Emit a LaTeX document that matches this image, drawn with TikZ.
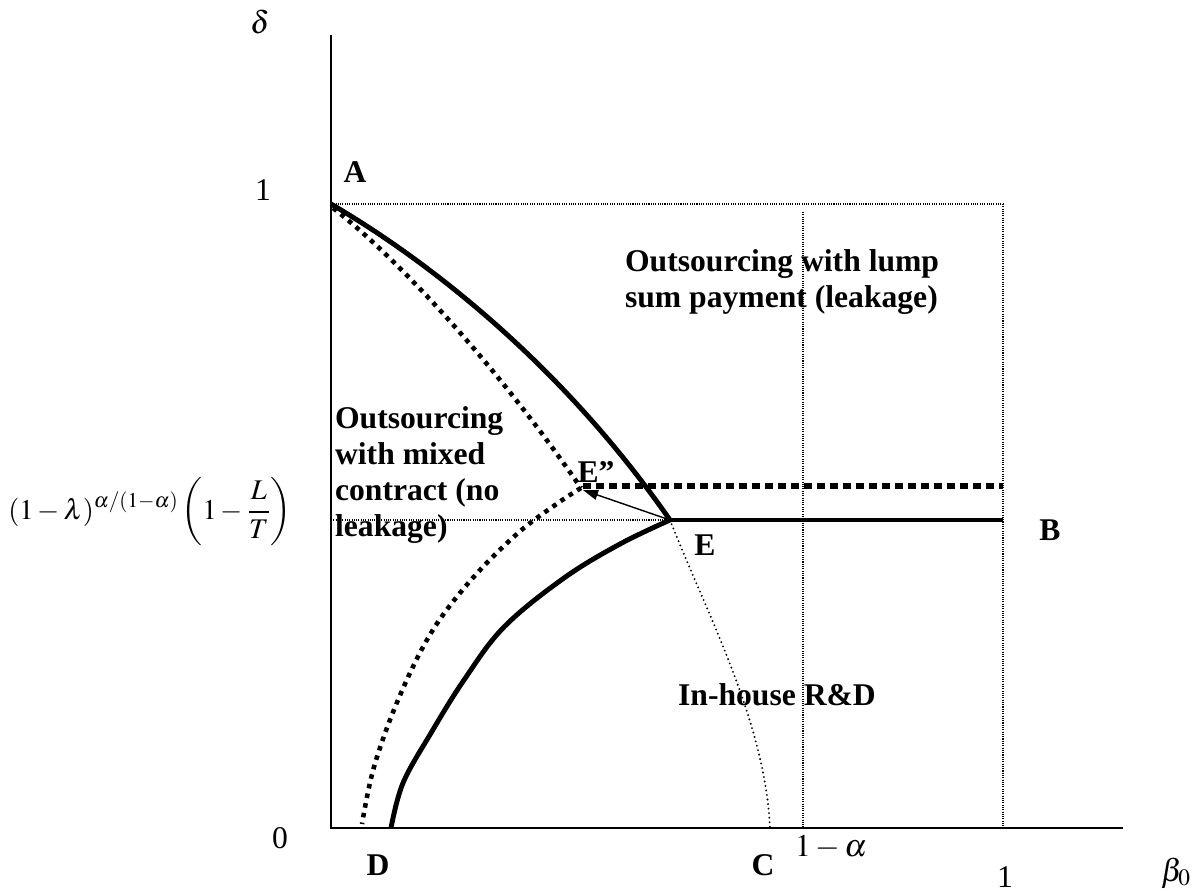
\documentclass[tikz,border=0pt]{standalone}
\usepackage{mathptmx}
\usepackage[no-math]{fontspec}
\setmainfont{Liberation Serif}
\usetikzlibrary{arrows.meta}

\begin{document}
\begin{tikzpicture}[x=0.02cm,y=-0.02cm,font=\fontsize{18}{20.5}\selectfont,inner sep=1pt,
  axis/.style={line width=1.1pt},
  bound/.style={line width=2.8pt},
  bounddot/.style={line width=2.6pt,dash pattern=on 2.6pt off 3pt},
  bounddash/.style={line width=3.2pt,dash pattern=on 4.6pt off 2.8pt},
  inhouse/.style={line width=1.2pt,line cap=round,dash pattern=on 0pt off 2.6pt},
  guide/.style={line width=0.6pt,dash pattern=on 0.6pt off 0.7pt},
  lbl/.style={font=\fontsize{18}{20.5}\selectfont\bfseries},
  region/.style={lbl,align=left,anchor=west}]
  \useasboundingbox (0,0) rectangle (1201,894);

  \coordinate (O) at (331,828);
  \coordinate (ytop) at (331,35);
  \coordinate (xend) at (1123,828);
  \coordinate (A) at (331,204);
  \coordinate (E) at (670,520);
  \coordinate (Epp) at (581,488);
  \coordinate (B) at (1003,520);
  \coordinate (Bpp) at (1003,486);
  \coordinate (C) at (770,828);
  \coordinate (D) at (391,828);
  \coordinate (Dpp) at (362,824);

  % guide lines
  \foreach \a/\b in {{(A)}/{(1003,204)}, {(1003,204)}/{(1003,828)},
                     {(803,212)}/{(803,828)}, {(331,520)}/{(E)}}
    \draw[guide] \a -- \b;

  % axes
  \draw[axis] (ytop) -- (O) -- (xend);

  % boundaries
  \draw[bound] (A) .. controls (430,262) and (562,365) .. (E);
  \draw[bound] plot[smooth,tension=0.6] coordinates
    {(E) (620,544) (564,578) (504,627) (464,680) (431,733) (403,783) (D)};
  \draw[bound] (E) -- (B);
  \draw[bounddot] (333,208) .. controls (400,260) and (500,370) .. (Epp);
  \draw[bounddot] plot[smooth,tension=0.6] coordinates
    {(Epp) (558,503) (518,533) (471,580) (431,633) (398,700) (374,767) (Dpp)};
  \draw[bounddash] (583,486) -- (Bpp);
  \draw[inhouse] (E) .. controls (705,610) and (765,720) .. (C);
  \draw[line width=0.8pt,-{Triangle[length=3mm,width=2mm]}] (E) -- (583,490);

  % labels
  \node (lA) at (355,172) [lbl] {A};
  \node (lB) at (1050,530) [lbl] {B};
  \node (lC) at (763,865) [lbl] {C};
  \node (lD) at (378,865) [lbl] {D};
  \node (lE) at (705,545) [lbl] {E};
  \node (lEpp) at (596,472) [lbl] {E”};
  \node (delta) at (260,22) {$\delta$};
  \node (beta) at (1176,873) {$\beta_0$};
  \node (zero) at (280,838) {0};
  \node (oney) at (263,190) {1};
  \node (onex) at (1005,877) [inner sep=0pt] {1};
  \node (onealpha) at (831,847) {$1-\alpha$};
  \node (level) at (150,512) [font=\fontsize{16.2}{19}\selectfont]
    {$\displaystyle (1-\lambda)^{\alpha/(1-\alpha)}\left(1-\frac{L}{T}\right)$};

  \node (lump) at (623,282) [region] {Outsourcing with lump\\sum payment (leakage)};
  \node (mixed) at (333,475) [region] {Outsourcing\\with mixed\\contract (no\\leakage)};
  \node (inh) at (676,695) [region] {In-house R\&D};
\end{tikzpicture}
\end{document}
